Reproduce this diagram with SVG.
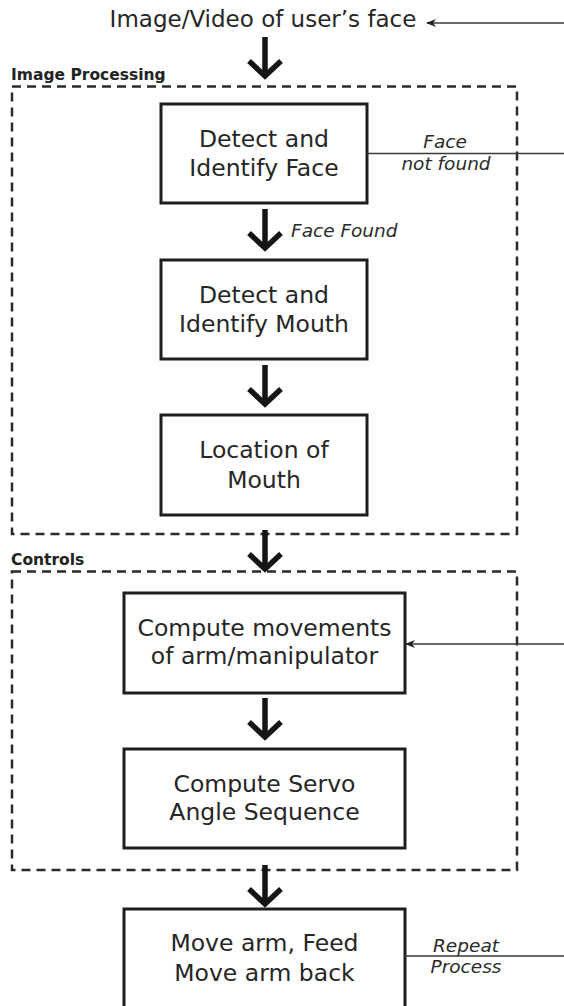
<svg xmlns="http://www.w3.org/2000/svg" width="564" height="1006" viewBox="0 0 564 1006">
  <style>
    .box { fill: #ffffff; stroke: #1e1e1e; stroke-width: 3; }
    .group { fill: none; stroke: #2a2a2a; stroke-width: 2.5; stroke-dasharray: 9 6; }
    .label { font-family: "DejaVu Sans", "Liberation Sans", sans-serif; font-size: 23.5px; fill: #262626; text-anchor: middle; }
    .title { font-family: "DejaVu Sans", "Liberation Sans", sans-serif; font-size: 23px; fill: #262626; text-anchor: middle; }
    .note { font-family: "DejaVu Sans", "Liberation Sans", sans-serif; font-size: 18.5px; font-style: italic; fill: #2a2a2a; }
    .grp { font-family: "DejaVu Sans", "Liberation Sans", sans-serif; font-size: 15.5px; font-weight: bold; fill: #222222; }
    .flow { fill: none; stroke: #151515; stroke-width: 5.5; stroke-linejoin: miter; stroke-miterlimit: 10; }
    .thin { fill: none; stroke: #3a3a3a; stroke-width: 1.5; }
  </style>
  <defs>
    <marker id="head" viewBox="0 0 10 8" refX="9" refY="4" markerWidth="10" markerHeight="8" markerUnits="userSpaceOnUse" orient="auto">
      <path d="M0,0 L10,4 L0,8 L3,4 Z" fill="#222222"/>
    </marker>
    <!-- thick downward arrow: shaft plus open chevron, tip at 0,0 -->
    <g id="down">
      <path class="flow" d="M0,-42 V-4"/>
      <path class="flow" d="M-16,-18 L0,-3 L16,-18"/>
    </g>
  </defs>

  <!-- dashed groups -->
  <g id="image-processing">
    <rect class="group" x="12" y="86.5" width="505" height="447.5"/>
    <text class="grp" x="11" y="80">Image Processing</text>
  </g>
  <g id="controls">
    <rect class="group" x="12" y="571.5" width="505" height="298.5"/>
    <text class="grp" x="11" y="565">Controls</text>
  </g>

  <!-- input -->
  <g id="input">
    <text class="title" x="263" y="27">Image/Video of user’s face</text>
  </g>

  <!-- process boxes -->
  <g id="detect-face">
    <rect class="box" x="161" y="104" width="206" height="99"/>
    <text class="label" x="264" y="147">Detect and</text>
    <text class="label" x="264" y="176">Identify Face</text>
  </g>
  <g id="detect-mouth">
    <rect class="box" x="161" y="260" width="206" height="99"/>
    <text class="label" x="264" y="303">Detect and</text>
    <text class="label" x="264" y="332">Identify Mouth</text>
  </g>
  <g id="mouth-location">
    <rect class="box" x="161" y="415" width="206" height="100"/>
    <text class="label" x="264" y="458">Location of</text>
    <text class="label" x="264" y="488">Mouth</text>
  </g>
  <g id="compute-movements">
    <rect class="box" x="124" y="593" width="281" height="100"/>
    <text class="label" x="264.5" y="636">Compute movements</text>
    <text class="label" x="264.5" y="664">of arm/manipulator</text>
  </g>
  <g id="servo-angles">
    <rect class="box" x="124" y="749" width="281" height="99"/>
    <text class="label" x="264.5" y="792">Compute Servo</text>
    <text class="label" x="264.5" y="820">Angle Sequence</text>
  </g>
  <g id="move-arm">
    <rect class="box" x="124" y="909" width="281" height="110"/>
    <text class="label" x="264.5" y="951">Move arm, Feed</text>
    <text class="label" x="264.5" y="981">Move arm back</text>
  </g>

  <!-- connectors -->
  <g id="connectors">
    <use href="#down" x="265" y="79"/>
    <use href="#down" x="265" y="251"/>
    <use href="#down" x="265" y="407"/>
    <use href="#down" x="265" y="572"/>
    <use href="#down" x="265" y="740"/>
    <use href="#down" x="265" y="907"/>

    <line class="thin" x1="564" y1="23" x2="427" y2="23" marker-end="url(#head)"/>
    <line class="thin" x1="367" y1="153.5" x2="564" y2="153.5"/>
    <line class="thin" x1="564" y1="644" x2="406" y2="644" marker-end="url(#head)"/>
    <line class="thin" x1="405" y1="956" x2="564" y2="956"/>

    <text class="note" x="291" y="237">Face Found</text>
    <text class="note" x="445" y="147.5" text-anchor="middle">Face</text>
    <text class="note" x="446" y="170" text-anchor="middle">not found</text>
    <text class="note" x="466" y="952" text-anchor="middle">Repeat</text>
    <text class="note" x="466" y="973" text-anchor="middle">Process</text>
  </g>
</svg>
